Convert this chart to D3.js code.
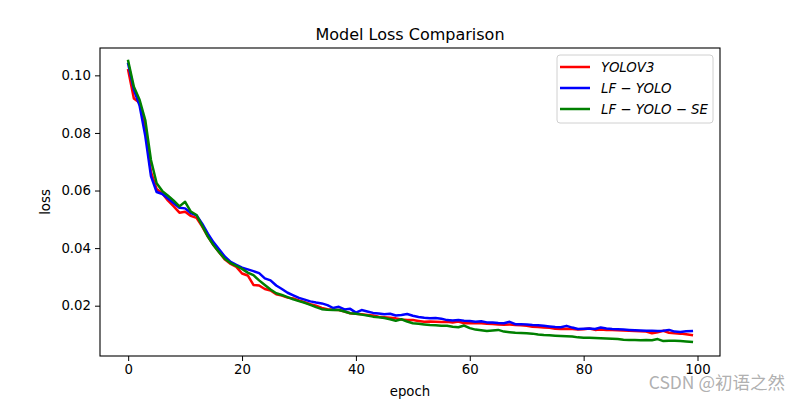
<!DOCTYPE html>
<html><head><meta charset="utf-8">
<script src="https://cdn.jsdelivr.net/npm/d3@7"></script>
<style>body{margin:0;background:#fff}svg{display:block}</style>
</head><body>
<svg id="chart" width="800" height="400"></svg>
<script>
const epochs = d3.range(0, 100);
const yolov3 = [0.1018,0.0920,0.0905,0.0815,0.0665,0.0605,0.0590,0.0565,0.0545,0.0523,
0.0526,0.0512,0.0505,0.0475,0.0440,0.0410,0.0385,0.0360,0.0345,0.0335,
0.0312,0.0305,0.0272,0.0270,0.0258,0.0253,0.0240,0.0235,0.0228,0.0225,
0.0218,0.0212,0.0205,0.0200,0.0192,0.0188,0.0186,0.0185,0.0180,0.0174,
0.0172,0.0170,0.0168,0.0166,0.0162,0.0160,0.0158,0.0156,0.0152,0.0150,
0.0150,0.0147,0.0144,0.0145,0.0144,0.0143,0.0144,0.0142,0.0145,0.0139,
0.0139,0.0140,0.0139,0.0137,0.0136,0.0135,0.0134,0.0135,0.0133,0.0132,
0.0130,0.0127,0.0126,0.0124,0.0123,0.0120,0.0119,0.0120,0.0119,0.0117,
0.0118,0.0121,0.0116,0.0117,0.0116,0.0116,0.0115,0.0114,0.0113,0.0112,
0.0111,0.0110,0.0104,0.0108,0.0113,0.0106,0.0104,0.0103,0.0101,0.0098];
const lfYolo = [0.1040,0.0950,0.0895,0.0790,0.0650,0.0595,0.0588,0.0572,0.0556,0.0540,
0.0538,0.0522,0.0514,0.0485,0.0450,0.0420,0.0395,0.0370,0.0352,0.0342,
0.0332,0.0326,0.0320,0.0313,0.0295,0.0288,0.0270,0.0258,0.0245,0.0236,
0.0227,0.0221,0.0215,0.0211,0.0208,0.0202,0.0192,0.0196,0.0187,0.0189,
0.0176,0.0185,0.0180,0.0175,0.0173,0.0170,0.0172,0.0166,0.0168,0.0171,
0.0165,0.0161,0.0158,0.0156,0.0157,0.0155,0.0150,0.0149,0.0150,0.0148,
0.0147,0.0144,0.0146,0.0142,0.0142,0.0140,0.0139,0.0144,0.0136,0.0136,
0.0135,0.0133,0.0132,0.0130,0.0128,0.0126,0.0125,0.0130,0.0124,0.0119,
0.0120,0.0121,0.0119,0.0124,0.0121,0.0119,0.0118,0.0117,0.0116,0.0115,
0.0114,0.0113,0.0113,0.0112,0.0113,0.0116,0.0110,0.0109,0.0111,0.0112];
const lfYoloSe = [0.1050,0.0960,0.0915,0.0845,0.0706,0.0625,0.0598,0.0582,0.0565,0.0545,
0.0561,0.0527,0.0515,0.0478,0.0440,0.0410,0.0385,0.0362,0.0348,0.0338,
0.0328,0.0315,0.0306,0.0288,0.0272,0.0256,0.0243,0.0237,0.0230,0.0222,
0.0216,0.0210,0.0203,0.0195,0.0188,0.0186,0.0185,0.0185,0.0180,0.0174,
0.0172,0.0169,0.0166,0.0162,0.0160,0.0157,0.0153,0.0148,0.0153,0.0145,
0.0139,0.0137,0.0135,0.0133,0.0132,0.0130,0.0130,0.0127,0.0125,0.0131,
0.0122,0.0117,0.0115,0.0112,0.0114,0.0116,0.0110,0.0108,0.0106,0.0105,
0.0104,0.0103,0.0100,0.0098,0.0097,0.0096,0.0095,0.0094,0.0093,0.0090,
0.0089,0.0089,0.0088,0.0087,0.0086,0.0085,0.0084,0.0082,0.0081,0.0081,
0.0080,0.0081,0.0080,0.0084,0.0077,0.0078,0.0078,0.0077,0.0076,0.0074];
const seriesNames = [["YOLOV3"], ["LF","YOLO"], ["LF","YOLO","SE"]];
const seriesColors = ["#ff0000", "#0000ff", "#008000"];
const xTicks = [0, 20, 40, 60, 80, 100];
const yTicks = [0.02, 0.04, 0.06, 0.08, 0.10];

const svg = d3.select("#chart");
const L = 100, R = 720, T = 48, B = 356;
const font = "DejaVu Sans, sans-serif";
const x = d3.scaleLinear().domain([-4.95, 103.95]).range([L, R]);
const y = d3.scaleLinear().domain([0.00253, 0.1095]).range([B, T]);

const allSeries = [yolov3, lfYolo, lfYoloSe];
const line = d3.line().x((d, i) => x(epochs[i])).y(d => y(d));
allSeries.forEach((s, k) => {
  svg.append("path").datum(s).attr("d", line)
    .attr("fill", "none").attr("stroke", seriesColors[k])
    .attr("stroke-width", 2.5).attr("stroke-linejoin", "round").attr("stroke-linecap", "square");
});

const xAxis = svg.append("g").attr("transform", `translate(0,${B})`)
  .call(d3.axisBottom(x).tickValues(xTicks).tickSize(5).tickPadding(4).tickFormat(d3.format("d")));
const yAxis = svg.append("g").attr("transform", `translate(${L},0)`)
  .call(d3.axisLeft(y).tickValues(yTicks).tickSize(5).tickPadding(4).tickFormat(d3.format(".2f")));
[xAxis, yAxis].forEach(g => {
  g.select(".domain").remove();
  g.selectAll("line").attr("stroke", "#000").attr("stroke-width", 1);
  g.selectAll("text").attr("font-family", font).attr("font-size", 13.3).attr("fill", "#000");
});

svg.append("rect").attr("x", L).attr("y", T).attr("width", R - L).attr("height", B - T)
  .attr("fill", "none").attr("stroke", "#000").attr("stroke-width", 1.1);

svg.append("text").attr("x", (L + R) / 2).attr("y", 40).attr("text-anchor", "middle")
  .attr("font-family", font).attr("font-size", 16).text("Model Loss Comparison");
svg.append("text").attr("x", (L + R) / 2).attr("y", 396).attr("text-anchor", "middle")
  .attr("font-family", font).attr("font-size", 13.3).text("epoch");
svg.append("text").attr("transform", `translate(50,${(T + B) / 2}) rotate(-90)`)
  .attr("text-anchor", "middle").attr("font-family", font).attr("font-size", 13.3).text("loss");

// legend
const lg = svg.append("g");
lg.append("rect").attr("x", 557).attr("y", 55).attr("width", 156).attr("height", 68)
  .attr("rx", 3).attr("fill", "#fff").attr("fill-opacity", 0.8)
  .attr("stroke", "#d0d0d0").attr("stroke-width", 1);
seriesNames.forEach((parts, k) => {
  const cy = 67 + k * 21;
  lg.append("line").attr("x1", 560).attr("x2", 590).attr("y1", cy).attr("y2", cy)
    .attr("stroke", seriesColors[k]).attr("stroke-width", 2.5);
  const t = lg.append("text").attr("x", 601).attr("y", cy + 5)
    .attr("font-family", font).attr("font-size", 13.3);
  parts.forEach((p, j) => {
    if (j > 0) t.append("tspan").attr("font-style", "normal").text(" \u2212 ");
    t.append("tspan").attr("font-style", "italic").text(p);
  });
});

svg.append("text").attr("x", 785).attr("y", 389).attr("text-anchor", "end")
  .attr("font-family", "Noto Sans CJK SC, sans-serif").attr("font-size", 17.5)
  .attr("fill", "#a6a6a6").attr("fill-opacity", 0.9).text("CSDN @初语之然");
</script>
</body></html>
